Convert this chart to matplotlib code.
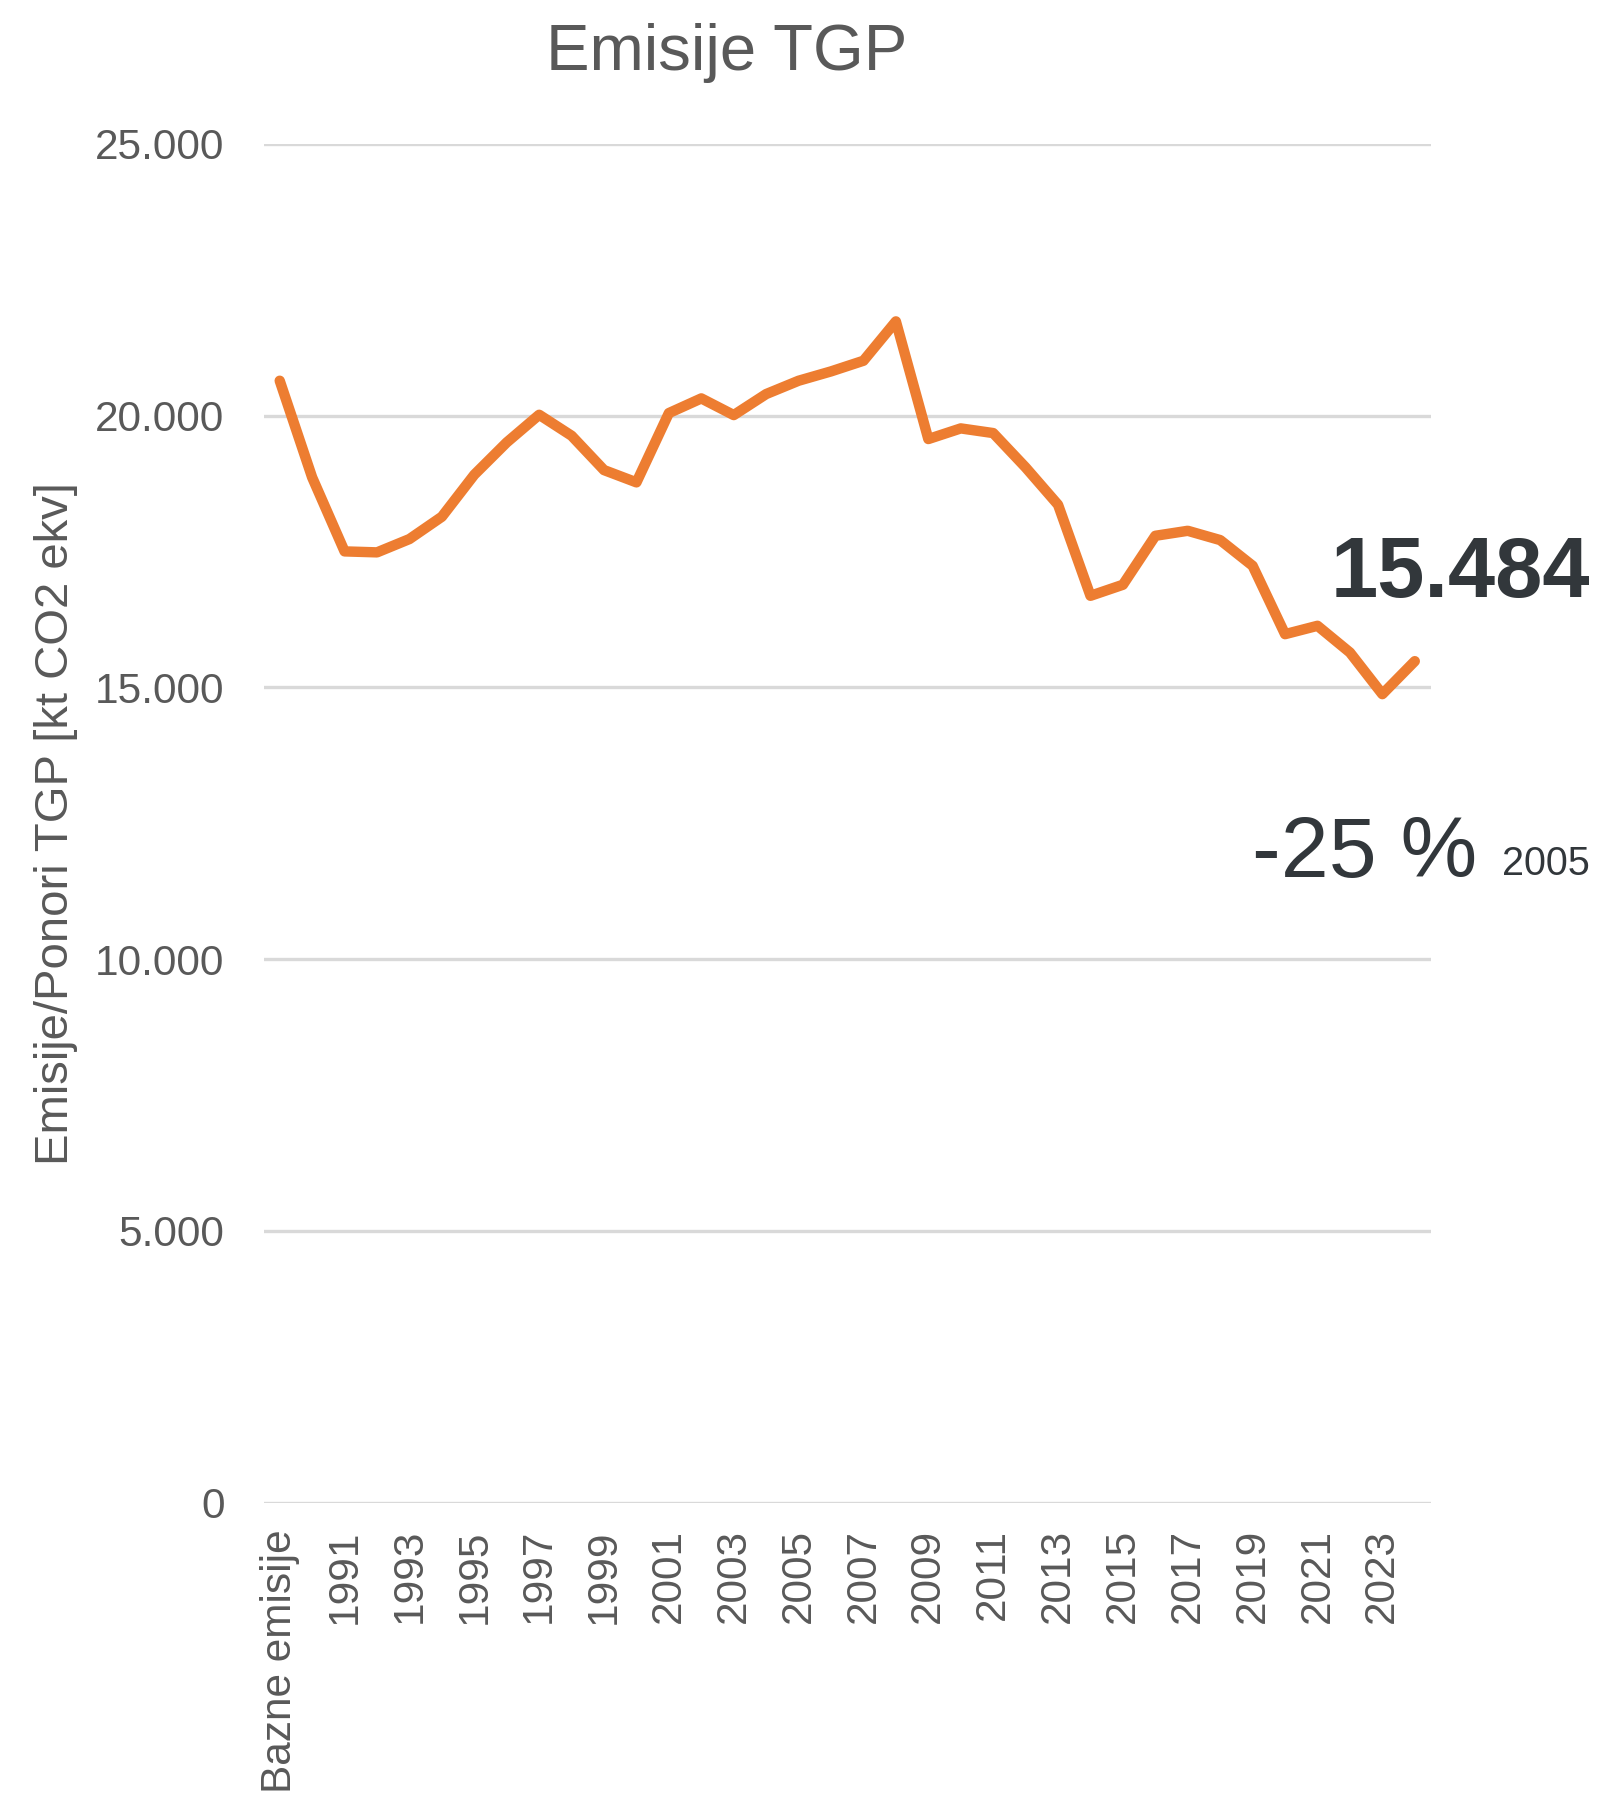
import matplotlib
matplotlib.use("Agg")
import matplotlib.pyplot as plt

plt.rcParams["font.family"] = ["Liberation Sans", "DejaVu Sans"]

categories = ["Bazne emisije"] + [str(y) for y in range(1990, 2025)]
emissions = [
    20644, 18866, 17504, 17486, 17731, 18142, 18915, 19509, 20018, 19632,
    19000, 18774, 20049, 20319, 20012, 20399, 20644, 20816, 21012, 21736,
    19571, 19767, 19681, 19049, 18362, 16687, 16890, 17791, 17883, 17712,
    17239, 15981, 16135, 15644, 14877, 15484,
]
y_ticks = [0, 5000, 10000, 15000, 20000, 25000]
y_tick_labels = ["0", "5.000", "10.000", "15.000", "20.000", "25.000"]

last_value_label = "15.484"
change_label = "-25 %"
change_base = "2005"

W, H = 1604, 1796
grey = "#595959"
dark = "#32373B"

fig = plt.figure(figsize=(W / 100, H / 100), dpi=100)
ax = fig.add_axes([263.5 / W, 1 - 1502.7 / H, (1431 - 263.5) / W, (1502.7 - 144) / H])

x = list(range(len(categories)))
ax.plot(x, emissions, color="#ED7D31", linewidth=7.5, solid_joinstyle="round",
        solid_capstyle="round", zorder=3)

ax.set_xlim(-0.5, len(categories) - 0.5)
ax.set_ylim(0, 25000)
ax.set_yticks(y_ticks)
ax.set_yticklabels(y_tick_labels)
ax.yaxis.grid(True, color="#D9D9D9", linewidth=2.4)
ax.set_axisbelow(True)

shown = x[::2]
ax.set_xticks(shown)
ax.set_xticklabels([categories[i] for i in shown], rotation=90, va="top", ha="center")

ax.tick_params(axis="y", length=0, pad=28, labelsize=30.5, labelcolor=grey)
ax.tick_params(axis="x", length=0, pad=19, labelsize=30.5, labelcolor=grey)
for s in ax.spines.values():
    s.set_visible(False)

fig.text(727 / W, 1 - 70 / H, "Emisije TGP", ha="center", va="baseline",
         fontsize=47, color=grey)
fig.text(56 / W, 1 - 824 / H, "Emisije/Ponori TGP [kt CO2 ekv]", rotation=90,
         ha="center", va="center", fontsize=34, color=grey)

fig.text(1590 / W, 1 - 597 / H, last_value_label, ha="right", va="baseline",
         fontsize=61, fontweight="bold", color=dark)
fig.text(1252 / W, 1 - 877 / H, change_label, ha="left", va="baseline",
         fontsize=62, color=dark)
fig.text(1590 / W, 1 - 875 / H, change_base, ha="right", va="baseline",
         fontsize=28.5, color=dark)

fig.savefig("out.png", dpi=100, facecolor="white")
